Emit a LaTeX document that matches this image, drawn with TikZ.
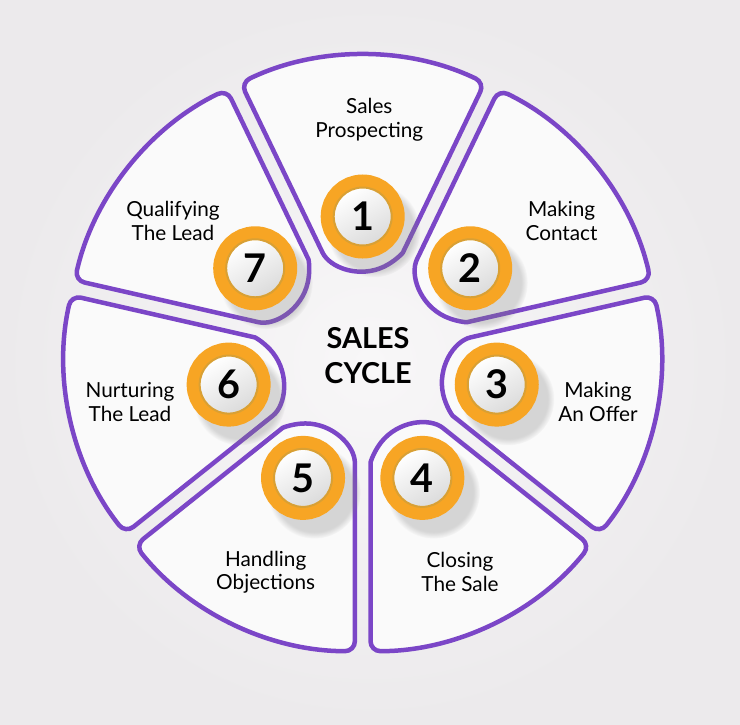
\documentclass[tikz,border=0pt]{standalone}
\usepackage{fontspec}
\setmainfont{Lato}
\usetikzlibrary{shadows}

\definecolor{segpurple}{RGB}{123,70,199}
\definecolor{ringorange}{RGB}{247,165,36}
\definecolor{ringgold}{RGB}{217,160,52}
\definecolor{bggray}{RGB}{236,234,236}
\definecolor{bglight}{RGB}{248,247,248}
\definecolor{segfill}{RGB}{250,250,250}

\begin{document}
\begin{tikzpicture}[
  x=0.02cm, y=0.02cm,
  segline/.style={draw=segpurple,line width=0.09cm,fill=segfill,rounded corners=0.2cm},
  seg/.pic={\path[segline] (115.714:102.7) arc[start angle=205.714,end angle=334.286,radius=49.46]
      -- (64.286:281) arc[start angle=64.286,end angle=115.714,radius=281] -- cycle;},
  badge/.style={circle,minimum size=1.16cm,inner sep=0pt,draw=ringgold,line width=0.04cm,
    top color=white,bottom color=black!14,shading angle=30,
    circular drop shadow={shadow xshift=0.14cm,shadow yshift=-0.18cm,shadow scale=1.6,opacity=0.3},
    preaction={draw=ringorange,line width=0.52cm},
    font=\fontsize{22.5pt}{22.5pt}\selectfont\bfseries},
  lbl/.style={align=center,font=\fontsize{11.8pt}{13.3pt}\selectfont},
  capt/.style={align=center,font=\fontsize{16.4pt}{20.2pt}\selectfont\bfseries}]

  \useasboundingbox (-362.7,-370) rectangle (377.3,354);
  \shade[inner color=bglight,outer color=bggray] (-362.7,-370) rectangle (377.3,354);

  % the seven wedges
  \pic[rotate=0]        at (90:18)       {seg};
  \pic[rotate=-51.429]  at (38.571:18)   {seg};
  \pic[rotate=-102.857] at (-12.857:18)  {seg};
  \pic[rotate=-154.286] at (-64.286:18)  {seg};
  \pic[rotate=-205.714] at (-115.714:18) {seg};
  \pic[rotate=-257.143] at (-167.143:18) {seg};
  \pic[rotate=-308.571] at (141.429:18)  {seg};

  \node[badge] (b1) at (90:137.5)       {1};
  \node[badge] (b2) at (38.571:137.5)   {2};
  \node[badge] (b3) at (-12.857:137.5)  {3};
  \node[badge] (b4) at (-64.286:137.5)  {4};
  \node[badge] (b5) at (-115.714:137.5) {5};
  \node[badge] (b6) at (-167.143:137.5) {6};
  \node[badge] (b7) at (141.429:137.5)  {7};

  \node[lbl] (t1) at (6.6,234.3)     {Sales\\Prospecting};
  \node[lbl] (t2) at (198.9,133.2)   {Making\\Contact};
  \node[lbl] (t3) at (235.3,-48)     {Making\\An Offer};
  \node[lbl] (t4) at (97.3,-218.1)   {Closing\\The Sale};
  \node[lbl] (t5) at (-97,-218.1)    {Handling\\Objections};
  \node[lbl] (t6) at (-232.7,-48)    {Nurturing\\The Lead};
  \node[lbl] (t7) at (-189.7,133.2)  {Qualifying\\The Lead};

  \node[capt] (cyc) at (5.3,-1.8) {SALES\\CYCLE};
\end{tikzpicture}
\end{document}
